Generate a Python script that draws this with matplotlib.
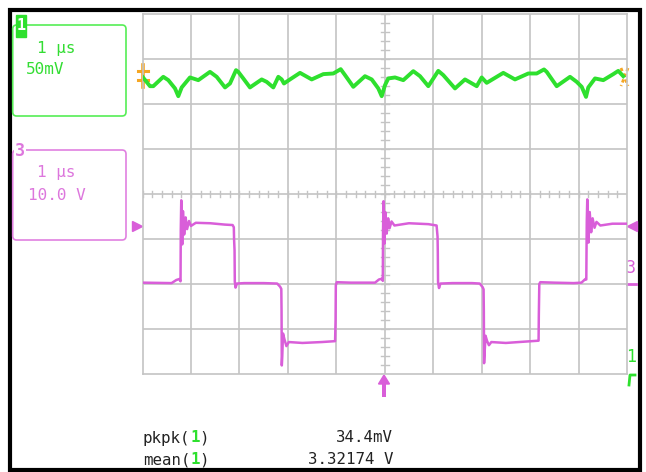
import numpy as np
import matplotlib.pyplot as plt
from matplotlib.patches import FancyBboxPatch, Rectangle, Polygon

# ====== scope settings / readings ======
TIME_DIV_US = 1.0          # 1 us/div
CH1_MV_DIV = 50.0          # 50 mV/div
CH3_V_DIV = 10.0           # 10 V/div
CH1_OFFSET_DIV = 2.53      # ripple trace position (div)
CH3_OFFSET_DIV = -2.0      # ch3 ground marker (div)
CH3_TRIG_V = 13.0          # trigger level marker (V)

ch1_labels = ["1 \u03bcs", "50mV"]
ch3_labels = ["1 \u03bcs", "10.0 V"]
meas_names = ["pkpk(", "mean("]
meas_values = ["34.4mV", "3.32174 V"]

# ch1 output ripple (AC part), time [us], mV
ch1_t = [0.00, 0.155, 0.223, 0.429, 0.533, 0.671, 0.739, 0.809, 0.980, 1.152,
         1.393, 1.531, 1.703, 1.806, 1.930, 1.977, 2.080, 2.218, 2.460, 2.563,
         2.700, 2.803, 2.873, 2.920, 3.044, 3.251, 3.492, 3.732, 3.938, 4.091,
         4.180, 4.351, 4.592, 4.731, 4.867, 4.937, 5.005, 5.073, 5.212, 5.383,
         5.589, 5.728, 5.899, 6.105, 6.208, 6.450, 6.656, 6.898, 7.001, 7.104,
         7.447, 7.688, 7.963, 8.136, 8.287, 8.343, 8.549, 8.824, 8.962, 9.065,
         9.154, 9.201, 9.340, 9.511, 9.717, 9.820, 9.923]
ch1_mv = [3.7, -6.7, -6.7, 3.7, 0.0, -9.2, -17.8, -8.1, 3.0, 0.0,
          9.2, 3.7, -8.1, -3.7, 11.1, 9.2, 1.9, -8.1, 0.8, -1.9,
          -8.1, 3.7, 0.8, -3.7, 0.8, 8.1, 0.8, 6.7, 7.4, 12.2,
          5.6, -7.4, 4.4, 0.8, -9.2, -17.8, -5.6, 1.9, 3.0, 0.0,
          10.0, 4.4, -6.7, 10.3, 5.6, -9.2, 0.8, -6.7, 3.0, -3.0,
          8.1, 0.8, 7.4, 7.4, 11.9, 9.2, -6.7, 3.7, -1.9, -7.4,
          -18.6, -8.1, 1.9, 0.0, 6.7, 10.3, 4.4]

# ch3 switch node, time [us], V
ch3_points = [
    (0.00, 0.3), (0.60, 0.2), (0.70, 0.9), (0.76, 1.1), (0.785, 0.6),
    (0.79, 12.0), (0.80, 18.6), (0.81, 13.0), (0.82, 8.8), (0.835, 16.2),
    (0.86, 11.0), (0.89, 14.8), (0.92, 12.2), (0.96, 14.0), (1.00, 12.9),
    (1.10, 13.6), (1.40, 13.5), (1.70, 13.2), (1.86, 13.1), (1.885, 12.6),
    (1.89, 10.0), (1.90, 7.5), (1.905, 0.5), (1.92, -0.8), (1.95, 0.1),
    (2.10, 0.2), (2.50, 0.2), (2.78, 0.1), (2.84, -0.6), (2.865, -1.1),
    (2.87, -6.0), (2.875, -18.1), (2.885, -16.0), (2.90, -11.0), (2.93, -12.3),
    (2.97, -13.8), (3.02, -12.9), (3.30, -13.1), (3.70, -12.9), (3.975, -12.7),
    (3.985, -8.0), (3.99, -0.3), (4.01, 0.4), (4.30, 0.3), (4.80, 0.3),
    (4.88, 1.0), (4.95, 1.2), (4.96, 0.7), (4.965, 12.0), (4.975, 18.4),
    (4.985, 13.5), (4.995, 9.0), (5.01, 16.0), (5.04, 11.2), (5.07, 14.6),
    (5.10, 12.4), (5.14, 13.9), (5.20, 13.0), (5.50, 13.5), (5.90, 13.3),
    (6.07, 13.0), (6.09, 10.5), (6.095, 7.0), (6.10, 0.4), (6.12, -0.9),
    (6.15, 0.1), (6.40, 0.2), (6.80, 0.2), (6.96, 0.1), (7.02, -0.7),
    (7.04, -1.2), (7.045, -6.0), (7.05, -17.6), (7.06, -15.5), (7.08, -11.5),
    (7.11, -12.6), (7.15, -13.6), (7.20, -12.9), (7.50, -13.1), (7.90, -12.8),
    (8.175, -12.6), (8.18, -7.0), (8.19, 0.0), (8.21, 0.4), (8.50, 0.3),
    (8.90, 0.2), (9.06, 0.3), (9.14, 1.1), (9.16, 1.0), (9.165, 8.0),
    (9.17, 14.0), (9.18, 18.8), (9.19, 13.0), (9.205, 9.2), (9.23, 16.0),
    (9.26, 11.5), (9.29, 14.6), (9.33, 12.5), (9.37, 13.8), (9.45, 13.0),
    (9.70, 13.4), (10.0, 13.4),
]

# ====== colours ======
GRID = '#c4c4c4'
GREEN = '#2ee02e'
GREEN_TXT = '#33dd33'
PINK = '#d95ed9'
PINK_TXT = '#dd77dd'
ORANGE = '#f5a623'
MONO = 'DejaVu Sans Mono'

W, H = 646, 472
fig = plt.figure(figsize=(W / 100, H / 100), dpi=100)
fig.patch.set_facecolor('white')

# overlay in pixel coords for frame, info boxes and readouts
ov = fig.add_axes([0, 0, 1, 1])
ov.set_xlim(0, W)
ov.set_ylim(H, 0)
ov.axis('off')

# ====== graticule ======
ax = fig.add_axes([142.5 / W, (H - 374) / H, 484.5 / W, 360 / H])
ax.set_xlim(0, 10)
ax.set_ylim(-4, 4)
ax.set_facecolor('none')
ax.set_xticks([])
ax.set_yticks([])
for s in ax.spines.values():
    s.set_color(GRID)
    s.set_linewidth(1.2)
for i in range(1, 10):
    ax.axvline(i, color=GRID, lw=1.2, zorder=1)
for j in range(-3, 4):
    ax.axhline(j, color=GRID, lw=1.2, zorder=1)
for x in np.arange(0, 10.01, 0.2):
    ax.plot([x, x], [-0.075, 0.075], color=GRID, lw=1, zorder=1)
for y in np.arange(-4, 4.01, 0.2):
    ax.plot([4.92, 5.08], [y, y], color=GRID, lw=1, zorder=1)

# ====== traces ======
t1 = np.array(ch1_t) / TIME_DIV_US
y1 = CH1_OFFSET_DIV + np.array(ch1_mv) / CH1_MV_DIV
ax.plot(t1, y1, color=GREEN, lw=2.8, zorder=3, solid_joinstyle='round')

t3 = np.array([p[0] for p in ch3_points]) / TIME_DIV_US
y3 = CH3_OFFSET_DIV + np.array([p[1] for p in ch3_points]) / CH3_V_DIV
ax.plot(t3, y3, color=PINK, lw=1.8, zorder=3)

# trigger level markers and ch3 ground marker
trig_y = CH3_OFFSET_DIV + CH3_TRIG_V / CH3_V_DIV
ax.plot(-0.11, trig_y, marker='>', color=PINK, ms=7, clip_on=False, mec=PINK)
ax.plot(10.1, trig_y, marker='<', color=PINK, ms=7, clip_on=False, mec=PINK)
ax.plot([10.0, 10.19], [CH3_OFFSET_DIV, CH3_OFFSET_DIV], color=PINK, lw=2, clip_on=False)

# orange cursors on ch1 trace
ov.plot([143, 143], [65, 87], color=ORANGE, lw=2.6)
ov.plot([138, 148], [71, 71], color=ORANGE, lw=2.2)
ov.plot([138, 148], [80, 80], color=ORANGE, lw=2.2)
ov.plot([621, 628], [68, 86], color=ORANGE, lw=2, ls=(0, (1.2, 1)))
ov.plot([628, 621], [68, 86], color=ORANGE, lw=2, ls=(0, (1.2, 1)))

# right-hand channel labels
ov.text(631, 268, '3', color=PINK, fontsize=12, family=MONO, ha='center', va='center')
ov.text(631, 357, '1', color=GREEN, fontsize=12, family=MONO, ha='center', va='center')
ov.plot([629, 630, 635], [385, 375, 375], color=GREEN, lw=2)

# trigger position arrow
ov.add_patch(Polygon([(378.5, 384), (389.5, 384), (384, 375)], closed=True, fc=PINK, ec=PINK))
ov.add_patch(Rectangle((382.3, 383), 3.4, 14, fc=PINK, ec='none'))

# ====== outer frame ======
ov.add_patch(Rectangle((10, 10), 630, 460, fill=False, ec='black', lw=3))

# ====== channel info boxes ======
ov.add_patch(FancyBboxPatch((12.7, 25), 113.3, 91, boxstyle='round,pad=0,rounding_size=4',
                            fc='none', ec='#55ee55', lw=1.2))
ov.add_patch(Rectangle((15.5, 15), 10.5, 21.5, fc=GREEN, ec=GREEN, zorder=4))
ov.text(20.8, 26, '1', color='white', fontsize=11, family=MONO, fontweight='bold',
        ha='center', va='center', zorder=5)
ov.text(37, 49, ch1_labels[0], color=GREEN_TXT, fontsize=11.5, family=MONO, va='center')
ov.text(26, 70, ch1_labels[1], color=GREEN_TXT, fontsize=11.5, family=MONO, va='center')

ov.add_patch(FancyBboxPatch((12.7, 150), 113.3, 90, boxstyle='round,pad=0,rounding_size=4',
                            fc='none', ec='#e080e0', lw=1.2))
ov.text(20, 151, '3', color=PINK_TXT, fontsize=12, family=MONO, fontweight='bold',
        ha='center', va='center', zorder=5,
        bbox=dict(fc='white', ec='none', pad=0.6))
ov.text(37, 173, ch3_labels[0], color=PINK_TXT, fontsize=11.5, family=MONO, va='center')
ov.text(28, 195, ch3_labels[1], color=PINK_TXT, fontsize=11.5, family=MONO, va='center')

# ====== measurements ======
fs = 11.3
cw = 0.602 * fs * 100 / 72
for k, (name, val) in enumerate(zip(meas_names, meas_values)):
    yy = 438 + k * 22
    x0 = 143
    ov.text(x0, yy, name, color='#222222', fontsize=fs, family=MONO, va='center')
    ov.text(x0 + len(name) * cw, yy, '1', color=GREEN, fontsize=fs, family=MONO,
            va='center', fontweight='bold')
    ov.text(x0 + (len(name) + 1) * cw, yy, ')', color='#222222', fontsize=fs, family=MONO,
            va='center')
    ov.text(393, yy, val, color='#222222', fontsize=fs, family=MONO, va='center', ha='right')

plt.savefig('out.png', dpi=100)
